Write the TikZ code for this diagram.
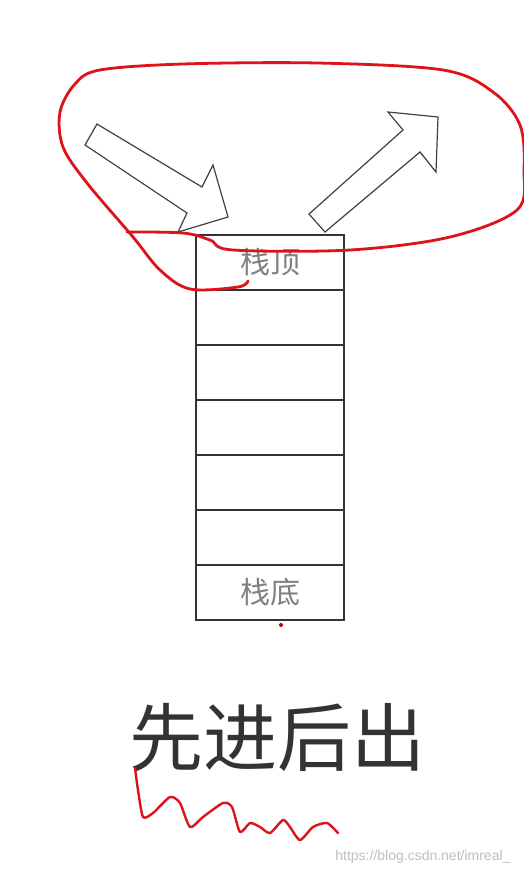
\documentclass[tikz,border=0pt]{standalone}
\usepackage{fontspec}
\newfontfamily\cjk{Noto Sans CJK SC}
\setsansfont{Liberation Sans}
\definecolor{pen}{RGB}{220,20,25}
\begin{document}
\begin{tikzpicture}[x=1pt,y=-1pt,
  cell/.style={draw=black!80,line width=1.5pt,minimum width=148pt,minimum height=55pt,inner sep=0pt,outer sep=0pt,anchor=north west,font=\cjk\fontsize{30}{30}\selectfont,text=black!50},
  bigarrow/.style={draw=black!75,line width=1.2pt,fill=white,line join=miter},
  redpen/.style={draw=pen,line width=2.8pt,line cap=round,line join=round}]
\useasboundingbox[fill=white] (0,0) rectangle (524,876);
% stack cells
\node[cell] (c1) at (196,235) {栈顶};
\node[cell] (c2) at (196,290) {};
\node[cell] (c3) at (196,345) {};
\node[cell] (c4) at (196,400) {};
\node[cell] (c5) at (196,455) {};
\node[cell] (c6) at (196,510) {};
\node[cell] (c7) at (196,565) {栈底};
\fill[red!70!black] (281,625) circle (2pt);
% arrows
\draw[bigarrow] (97,124) -- (202,187) -- (213,165) -- (228,217) -- (178,232) -- (187,213) -- (85,145) -- cycle;
\draw[bigarrow] (325,232) -- (309,214) -- (403,130) -- (388,112) -- (438,117) -- (436,172) -- (420,152) -- cycle;
% red loop
\draw[redpen] plot[smooth,tension=0.55] coordinates {(248,281) (238,287) (190,289) (160,270) (133,237) (87,183) (63,147) (60,112) (75,84) (100,70) (183,64) (317,63) (443,70) (493,92) (520,125) (524,170) (517,210) (450,237) (350,250) (233,250) (210,240) (183,233) (127,232)};
% big text
\node[font=\cjk\fontsize{74}{74}\selectfont,text=black!80] (t) at (277,738) {先进后出};
% red squiggle
\draw[redpen,line width=2.4pt] plot[smooth,tension=0.4] coordinates {(135,768) (138,790) (143,817) (153,813) (170,797) (180,803) (190,827) (203,817) (223,803) (232,807) (240,832) (250,823) (260,827) (270,833) (283,820) (290,827) (300,840) (313,827) (327,823) (338,833)};
% watermark
\node[font=\sffamily\fontsize{14}{14}\selectfont,text=black!25,anchor=east] (w) at (514,857) {https://blog.csdn.net/imreal\_};
\end{tikzpicture}
\end{document}
